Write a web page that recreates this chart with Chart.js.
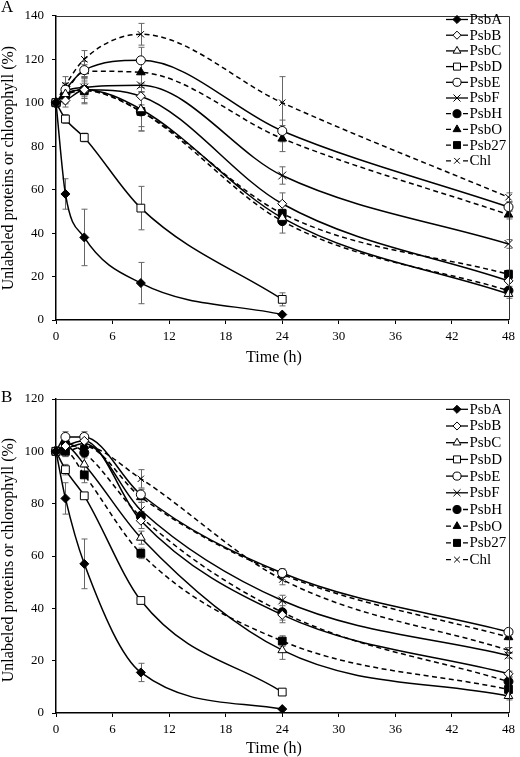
<!DOCTYPE html>
<html><head><meta charset="utf-8">
<script src="https://cdn.jsdelivr.net/npm/chart.js@4/dist/chart.umd.min.js"></script>
<style>
html,body{margin:0;padding:0;background:#fff;}
.wrap{position:absolute;left:0;width:520px;}
canvas{display:block;}
</style></head><body>
<div class="wrap" style="top:0;height:378px"><canvas id="cA" width="520" height="378"></canvas></div>
<div class="wrap" style="top:378px;height:379px"><canvas id="cB" width="520" height="379"></canvas></div>
<script>
// ---------- DATA ----------
const hours = [0, 1, 3, 9, 24, 48];
const seriesNames = ['PsbA','PsbB','PsbC','PsbD','PsbE','PsbF','PsbH','PsbO','Psb27','Chl'];
const xTickValues = [0, 6, 12, 18, 24, 30, 36, 42, 48];
const yTicksA = [0, 20, 40, 60, 80, 100, 120, 140];
const yTicksB = [0, 20, 40, 60, 80, 100, 120];
const xTitle = 'Time (h)';
const yTitle = 'Unlabeled proteins or chlorophyll (%)';

// Panel A (values, %)
const aPsbA  = [100, 58, 38, 17, 2.5];
const aPsbB  = [100, 101, 106, 103, 53.5, 18];
const aPsbC  = [100, 104, 106, 97, 47, 12];
const aPsbD  = [100, 92.5, 84, 51.5, 9.5];
const aPsbE  = [100, 106, 115, 119.5, 87, 52];
const aPsbF  = [100, 105, 107, 108, 66.5, 35];
const aPsbH  = [100, 104, 106, 96, 45.5, 13.5];
const aPsbO  = [100, 105, 114.5, 114, 83.5, 48.5];
const aPsb27 = [100, 103.5, 105.5, 96, 49, 21];
const aChl   = [100, 108, 120, 131.5, 100, 56.5];
// Panel A error bars (±)
const aPsbA_err  = [0, 7, 13, 9.5, 0];
const aPsbB_err  = [0, 3, 4, 4, 5, 0];
const aPsbC_err  = [0, 3, 3, 8, 3, 2];
const aPsbD_err  = [0, 2, 2, 10, 3];
const aPsbE_err  = [0, 3, 4, 6, 5, 2];
const aPsbF_err  = [0, 4, 5, 5, 4, 2];
const aPsbH_err  = [0, 4, 6, 9, 5.5, 2];
const aPsbO_err  = [0, 3, 3, 5, 6, 2];
const aPsb27_err = [0, 4, 6, 9, 4, 2];
const aChl_err   = [0, 4, 4, 5, 12, 2];

// Panel B (values, %)
const bPsbA  = [100, 82, 57, 15.5, 1.5];
const bPsbB  = [100, 102, 104, 73.5, 37.5, 15];
const bPsbC  = [100, 102, 95, 67, 24, 6.5];
const bPsbD  = [100, 93, 83, 43, 8];
const bPsbE  = [100, 105.5, 105.5, 83.5, 53.5, 31];
const bPsbF  = [100, 101, 103, 77.5, 43, 22];
const bPsbH  = [100, 103, 99.5, 75, 38.5, 12];
const bPsbO  = [100, 102, 102, 82.5, 53, 29];
const bPsb27 = [100, 100, 91, 61, 27.5, 9];
const bChl   = [100, 100, 102, 89.5, 51, 24];
// Panel B error bars (±)
const bPsbA_err  = [0, 6, 9.5, 3.5, 0];
const bPsbB_err  = [0, 2, 2, 3, 2, 1];
const bPsbC_err  = [0, 2, 3, 2.5, 3.5, 1.5];
const bPsbD_err  = [0, 2, 1, 1, 1];
const bPsbE_err  = [0, 2, 2, 2, 1.5, 1];
const bPsbF_err  = [0, 2, 2, 3, 2, 1];
const bPsbH_err  = [0, 2, 2, 2, 4, 1.5];
const bPsbO_err  = [0, 2, 2, 2, 2, 1];
const bPsb27_err = [0, 2, 3, 2, 2, 1.5];
const bChl_err   = [0, 2, 2, 3.5, 2, 1];

// ---------- STYLES ----------
const FONT = "'Liberation Serif', 'Times New Roman', serif";
const markerStyle = ['rectRot','rectRot','triangle','rect','circle','crossRot','circle','triangle','rect','crossRot'];
const markerFilled = [true,false,false,false,false,false,true,true,true,false];
const markerRadius = [4.5,4.5,5,5.5,4.5,5.5,4.5,5,5.5,4.5];
const lineDashed = [false,false,false,false,false,false,true,true,true,true];

function buildDatasets(values, errs){
  return values.map((vals, i) => ({
    label: seriesNames[i],
    data: vals.map((v, k) => ({x: hours[k], y: v})),
    errors: errs[i],
    borderColor: '#000',
    borderWidth: 1.5,
    borderDash: lineDashed[i] ? [5, 3.5] : [],
    backgroundColor: markerFilled[i] ? '#000' : '#fff',
    pointStyle: markerStyle[i],
    pointRadius: markerRadius[i],
    pointHoverRadius: markerRadius[i],
    pointBackgroundColor: markerFilled[i] ? '#000' : '#fff',
    pointBorderColor: '#000',
    pointBorderWidth: 1,
    fill: false,
    cubicInterpolationMode: 'monotone',
    clip: false
  }));
}

function makePanel(canvasId, values, errs, yMax, yTicks, geo){
  const decor = {
    id: 'decor',
    beforeDatasetsDraw(chart){
      const ctx = chart.ctx, xs = chart.scales.x, ys = chart.scales.y;
      ctx.save();
      ctx.strokeStyle = '#666'; ctx.lineWidth = 1;
      chart.data.datasets.forEach(ds => {
        ds.data.forEach((p, k) => {
          const e = ds.errors[k];
          if (!e) return;
          const px = Math.round(xs.getPixelForValue(p.x)) + 0.5;
          const y1 = ys.getPixelForValue(p.y + e), y2 = ys.getPixelForValue(Math.max(0, p.y - e));
          ctx.beginPath();
          ctx.moveTo(px, y1); ctx.lineTo(px, y2);
          ctx.moveTo(px - 3, y1); ctx.lineTo(px + 3, y1);
          ctx.moveTo(px - 3, y2); ctx.lineTo(px + 3, y2);
          ctx.stroke();
        });
      });
      ctx.restore();
    },
    afterDraw(chart){
      const ctx = chart.ctx, a = chart.chartArea;
      ctx.save();
      // top/right frame
      ctx.strokeStyle = '#333'; ctx.lineWidth = 1;
      ctx.beginPath();
      ctx.moveTo(a.left, Math.round(a.top) + 0.5);
      ctx.lineTo(Math.round(a.right) + 0.5, Math.round(a.top) + 0.5);
      ctx.lineTo(Math.round(a.right) + 0.5, a.bottom);
      ctx.stroke();
      // legend
      ctx.font = '15px ' + FONT;
      ctx.textBaseline = 'middle';
      ctx.fillStyle = '#000';
      chart.data.datasets.forEach((ds, i) => {
        const y = geo.legTop + i * geo.legStep;
        const x0 = geo.legX;
        ctx.strokeStyle = '#000'; ctx.lineWidth = 1.3;
        ctx.beginPath();
        if (lineDashed[i]) {
          ctx.moveTo(x0, y); ctx.lineTo(x0 + 5, y);
          ctx.moveTo(x0 + 17, y); ctx.lineTo(x0 + 22, y);
        } else {
          ctx.moveTo(x0, y); ctx.lineTo(x0 + 22, y);
        }
        ctx.stroke();
        ctx.fillStyle = markerFilled[i] ? '#000' : '#fff';
        ctx.strokeStyle = '#000'; ctx.lineWidth = 1;
        Chart.helpers.drawPoint(ctx, {pointStyle: markerStyle[i], radius: markerRadius[i] * 0.9, borderWidth: 1, rotation: 0}, x0 + 11, y);
        ctx.fillStyle = '#000';
        ctx.fillText(ds.label, x0 + 23.5, y + 0.5);
      });
      // axis titles
      ctx.font = '16px ' + FONT;
      ctx.textAlign = 'center';
      ctx.fillText(xTitle, geo.xTitleX, geo.xTitleY);
      ctx.save();
      ctx.translate(geo.yTitleX, geo.yTitleY);
      ctx.rotate(-Math.PI / 2);
      ctx.fillText(yTitle, 0, 0);
      ctx.restore();
      // panel letter
      ctx.font = '17px ' + FONT;
      ctx.textAlign = 'left';
      ctx.fillText(geo.letter, 1, geo.letterY);
      ctx.restore();
    }
  };

  return new Chart(document.getElementById(canvasId), {
    type: 'line',
    data: { datasets: buildDatasets(values, errs) },
    options: {
      responsive: false,
      animation: false,
      devicePixelRatio: 1,
      layout: { padding: { left: 0, right: geo.padRight, top: geo.padTop, bottom: 0 } },
      plugins: { legend: { display: false }, tooltip: { enabled: false } },
      scales: {
        x: {
          type: 'linear', min: 0, max: 48,
          afterBuildTicks: s => { s.ticks = xTickValues.map(v => ({ value: v })); },
          afterFit: s => { s.height = geo.xAxisH; },
          ticks: { font: { family: FONT, size: 13 }, color: '#000', padding: 5, maxRotation: 0 },
          grid: { display: true, drawOnChartArea: false, drawTicks: true, tickLength: 4, color: '#000' },
          border: { display: true, color: '#000', width: 1.5 }
        },
        y: {
          type: 'linear', min: 0, max: yMax,
          afterBuildTicks: s => { s.ticks = yTicks.map(v => ({ value: v })); },
          afterFit: s => { s.width = geo.yAxisW; },
          ticks: { font: { family: FONT, size: 13 }, color: '#000', padding: 8 },
          grid: { display: true, drawOnChartArea: false, drawTicks: true, tickLength: 4, color: '#000' },
          border: { display: true, color: '#000', width: 1.5 }
        }
      }
    },
    plugins: [decor]
  });
}

const valuesA = [aPsbA, aPsbB, aPsbC, aPsbD, aPsbE, aPsbF, aPsbH, aPsbO, aPsb27, aChl];
const errsA = [aPsbA_err, aPsbB_err, aPsbC_err, aPsbD_err, aPsbE_err, aPsbF_err, aPsbH_err, aPsbO_err, aPsb27_err, aChl_err];
const valuesB = [bPsbA, bPsbB, bPsbC, bPsbD, bPsbE, bPsbF, bPsbH, bPsbO, bPsb27, bChl];
const errsB = [bPsbA_err, bPsbB_err, bPsbC_err, bPsbD_err, bPsbE_err, bPsbF_err, bPsbH_err, bPsbO_err, bPsb27_err, bChl_err];

makePanel('cA', valuesA, errsA, 140, yTicksA, {
  padTop: 8, padRight: 7, xAxisH: 58, yAxisW: 56,
  legX: 446, legTop: 19.5, legStep: 15.7,
  xTitleX: 274, xTitleY: 358, yTitleX: 9, yTitleY: 168, letter: 'A', letterY: 8
});
makePanel('cB', valuesB, errsB, 120, yTicksB, {
  padTop: 21, padRight: 7, xAxisH: 44, yAxisW: 56,
  legX: 446, legTop: 31.3, legStep: 16.7,
  xTitleX: 274, xTitleY: 371, yTitleX: 9, yTitleY: 182, letter: 'B', letterY: 20
});
</script>
</body></html>
